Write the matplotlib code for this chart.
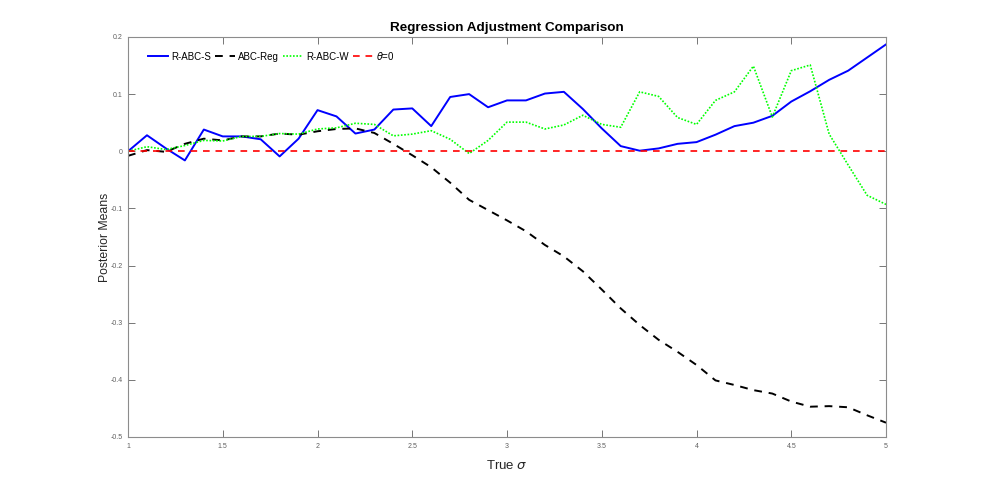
import matplotlib
matplotlib.use("Agg")
import matplotlib.pyplot as plt
import numpy as np

# true sigma grid
sigma = [round(1.0 + 0.1 * i, 1) for i in range(41)]

r_abc_s = [0.000, 0.028, 0.005, -0.016, 0.038, 0.026, 0.026, 0.021, -0.009, 0.022,
           0.072, 0.061, 0.031, 0.038, 0.073, 0.075, 0.044, 0.095, 0.100, 0.077,
           0.089, 0.089, 0.101, 0.104, 0.074, 0.040, 0.009, 0.001, 0.005, 0.013,
           0.016, 0.029, 0.044, 0.050, 0.062, 0.087, 0.105, 0.125, 0.141, 0.164,
           0.187]

abc_reg = [-0.008, 0.002, -0.001, 0.013, 0.022, 0.019, 0.026, 0.026, 0.031, 0.029,
           0.035, 0.039, 0.040, 0.032, 0.013, -0.007, -0.028, -0.055, -0.085, -0.103,
           -0.121, -0.140, -0.164, -0.184, -0.210, -0.242, -0.275, -0.304, -0.330, -0.351,
           -0.374, -0.401, -0.409, -0.418, -0.424, -0.438, -0.447, -0.446, -0.448, -0.462,
           -0.475]

r_abc_w = [0.000, 0.008, 0.003, 0.010, 0.019, 0.018, 0.026, 0.026, 0.031, 0.030,
           0.039, 0.041, 0.049, 0.047, 0.027, 0.030, 0.036, 0.021, -0.004, 0.019,
           0.051, 0.051, 0.039, 0.046, 0.063, 0.047, 0.042, 0.104, 0.096, 0.059,
           0.047, 0.089, 0.104, 0.149, 0.060, 0.141, 0.151, 0.030, -0.024, -0.077,
           -0.093]

theta0 = [0.0] * len(sigma)

x_ticks = [1, 1.5, 2, 2.5, 3, 3.5, 4, 4.5, 5]
x_tick_labels = ["1", "1.5", "2", "2.5", "3", "3.5", "4", "4.5", "5"]
y_ticks = [-0.5, -0.4, -0.3, -0.2, -0.1, 0, 0.1, 0.2]
y_tick_labels = ["-0.5", "-0.4", "-0.3", "-0.2", "-0.1", "0", "0.1", "0.2"]

plt.rcParams['font.family'] = ['Liberation Sans', 'DejaVu Sans']
plt.rcParams['mathtext.fontset'] = 'dejavusans'

fig = plt.figure(figsize=(9.81, 4.91), dpi=100)
ax = fig.add_axes([0.1305, 0.11, 0.7727, 0.8147])

ax.plot(sigma, r_abc_s, color='#0000FF', lw=1.4, ls='-', label='R-ABC-S')
ax.plot(sigma, abc_reg, color='black', lw=1.4, ls=(0, (4, 3.5)), label='ABC-Reg')
ax.plot(sigma, r_abc_w, color='#00FF00', lw=1.2, ls=(0, (1, 1)), label='R-ABC-W')
ax.plot(sigma, theta0, color='#FF0000', lw=1.2, ls=(0, (4, 3.5)), label=r'$\theta$=0')

ax.set_xlim(1, 5)
ax.set_ylim(-0.5, 0.2)
ax.set_xticks(x_ticks)
ax.set_xticklabels(x_tick_labels)
ax.set_yticks(y_ticks)
ax.set_yticklabels(y_tick_labels)

for sp in ax.spines.values():
    sp.set_color('#8c8c8c')
    sp.set_linewidth(0.8)
ax.tick_params(direction='in', length=5, width=0.6, colors='#606060',
               labelsize=5, top=True, right=True, pad=4)

ax.set_title('Regression Adjustment Comparison', fontsize=9.7, fontweight='bold', pad=4)
ax.set_xlabel(r'True $\sigma$', fontsize=9.5, color='#262626')
ax.set_ylabel('Posterior Means', fontsize=8.8, color='#262626')
ax.xaxis.set_label_coords(0.5, -0.055)
ax.yaxis.set_label_coords(-0.023, 0.5)

ax.legend(loc='center left', ncol=4, frameon=False, fontsize=7,
          handlelength=2.1, handletextpad=0.3, columnspacing=0.4,
          bbox_to_anchor=(0.026, 0.953), borderaxespad=0, borderpad=0)

fig.savefig('out.png', dpi=100)
